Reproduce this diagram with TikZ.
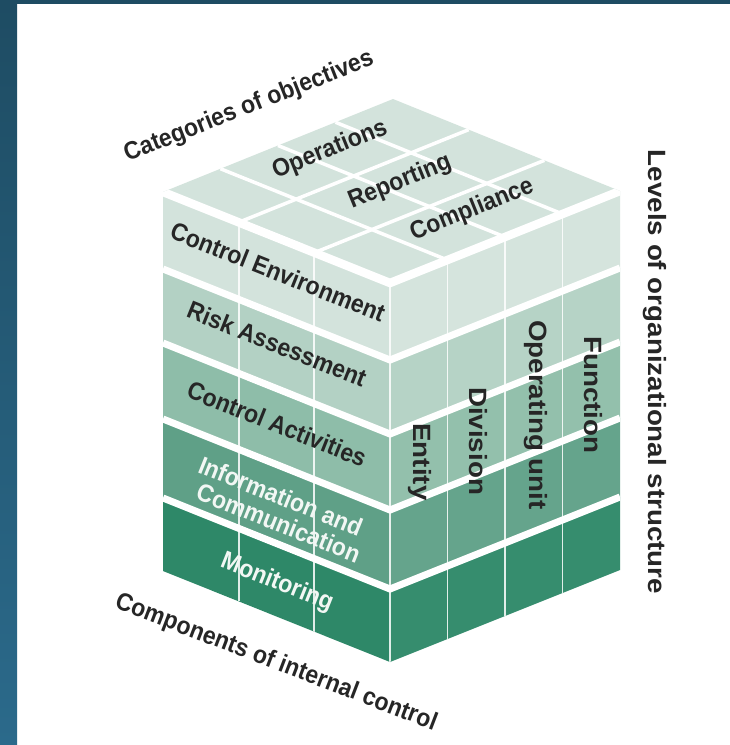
\documentclass[tikz,border=0pt]{standalone}
\usepackage{fontspec}
\setmainfont{Liberation Sans}
\usepackage{graphicx}
\usetikzlibrary{calc}
\definecolor{rowA}{HTML}{D3E3DC}
\definecolor{rowB}{HTML}{B3D1C4}
\definecolor{rowC}{HTML}{8EBDA9}
\definecolor{rowD}{HTML}{5FA087}
\definecolor{rowE}{HTML}{2E8868}
\definecolor{topface}{HTML}{D3E3DC}
\definecolor{txtdark}{HTML}{262626}
\definecolor{txtlight}{HTML}{F2F7F4}
\definecolor{frameA}{HTML}{1E4C63}
\definecolor{frameB}{HTML}{2B6A8B}
\newcommand{\sq}[1]{\scalebox{0.92}[1]{#1}}
\newcommand{\st}[1]{\scalebox{1.11}[1]{#1}}
\begin{document}
\begin{tikzpicture}[x=1pt,y=-1pt,
  lbl/.style={font=\fontsize{25}{25.5}\selectfont\bfseries, text=txtdark, inner sep=0pt},
  lblw/.style={lbl, text=txtlight},
  sepband/.style={draw=white, line width=7pt, line join=miter},
  colline/.style={draw=white, draw opacity=0.85, line width=1.8pt},
  topgrid/.style={draw=white, line width=3.5pt}]
\useasboundingbox (0,0) rectangle (730,745);
\fill[white] (0,0) rectangle (730,745);
\shade[top color=frameA, bottom color=frameB] (0,0) rectangle (17,745);
\fill[frameA] (0,0) rectangle (730,4);

% corners
\coordinate (L0) at (163,192);
\coordinate (F0) at (390,283);
\coordinate (R0) at (620,191);
\coordinate (BK) at (393,99);
\coordinate (L5) at (163,571);
\coordinate (F5) at (390,662);
\coordinate (R5) at (620,570);

% top face
\fill[topface] (L0) -- (F0) -- (R0) -- (BK) -- cycle;
\foreach \t in {0.3333,0.6667}
  \draw[topgrid] ($(L0)!\t!(F0)$) -- ($(BK)!\t!(R0)$);
\foreach \t in {0.25,0.5,0.75}
  \draw[topgrid] ($(L0)!\t!(BK)$) -- ($(F0)!\t!(R0)$);

% side faces
\foreach \ya/\yb/\col in {283/360/rowA, 360/434/rowB, 434/510/rowC, 510/589/rowD, 589/662/rowE} {
  \fill[\col] (163,\ya-91) -- (390,\ya) -- (390,\yb) -- (163,\yb-91) -- cycle;
  \fill[\col!96!white] (390,\ya) -- (620,\ya-92) -- (620,\yb-92) -- (390,\yb) -- cycle;
}
\begin{scope}
  \clip (L0) -- (BK) -- (R0) -- (R5) -- (F5) -- (L5) -- cycle;
  \foreach \t in {0.3333,0.6667}
    \draw[colline] ($(L0)!\t!(F0)$) -- ($(L5)!\t!(F5)$);
  \foreach \t in {0.25,0.5,0.75}
    \draw[colline] ($(F0)!\t!(R0)$) -- ($(F5)!\t!(R5)$);
  \draw[colline] (F0) -- (F5);
  \foreach \y in {360,434,510,589}
    \draw[sepband] (163,\y-91) -- (390,\y) -- (620,\y-92);
  \draw[sepband, line width=8.5pt] (L0) -- (F0) -- (R0);
\end{scope}

% top face labels
\node[lbl, rotate=22] (op) at (330,150) {\sq{Operations}};
\node[lbl, rotate=22] (rp) at (400,182) {\sq{Reporting}};
\node[lbl, rotate=22] (cp) at (472,210) {\sq{Compliance}};

% left face labels
\node[lbl, rotate=-21.8] (ce) at (278,272) {\sq{Control Environment}};
\node[lbl, rotate=-21.8] (ra) at (277,344) {\sq{Risk Assessment}};
\node[lbl, rotate=-21.8] (ca) at (277,424) {\sq{Control Activities}};
\node[lblw, rotate=-21.8, align=center] (ic) at (276,508) {\sq{Information and}\\\hspace*{16pt}\sq{Communication}};
\node[lblw, rotate=-21.8] (mo) at (277,583) {\sq{Monitoring}};

% right face labels
\node[lbl, rotate=-90] (en) at (420,462) {\st{Entity}};
\node[lbl, rotate=-90] (dv) at (478,441) {\st{Division}};
\node[lbl, rotate=-90] (ou) at (536,415) {\st{Operating unit}};
\node[lbl, rotate=-90] (fn) at (593,395) {\st{Function}};

% axis labels
\node[lbl, rotate=21.5] (cat) at (249,107) {\sq{Categories of objectives}};
\node[lbl, rotate=-21] (comp) at (276,663) {\sq{Components of internal control}};
\node[lbl, rotate=-90] (lev) at (655,372) {\st{Levels of organizational structure}};
\end{tikzpicture}
\end{document}
